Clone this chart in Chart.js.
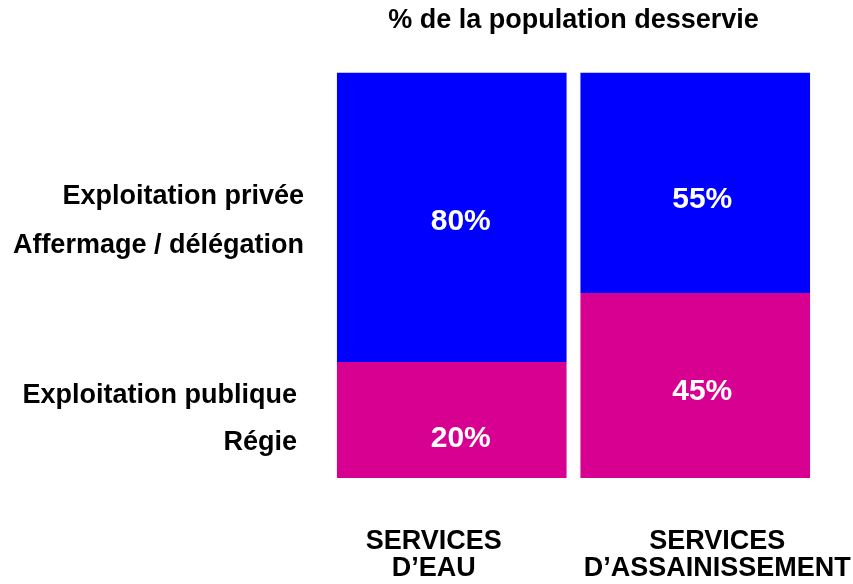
<!DOCTYPE html>
<html>
<head>
<meta charset="utf-8">
<script src="https://cdn.jsdelivr.net/npm/chart.js@4"></script>
<style>
  body { margin: 0; background: #fff; overflow: hidden; }
</style>
</head>
<body>
<canvas id="myChart" width="853" height="584"></canvas>
<script>
const categories = [['SERVICES', 'D\u2019EAU'], ['SERVICES', 'D\u2019ASSAINISSEMENT']];
// bar heights as drawn in the picture (share of the bar)
const publicValues = [28.6, 45.6];
const privateValues = [71.4, 54.4];
// the printed labels
const publicLabels = ['20%', '45%'];
const privateLabels = ['80%', '55%'];
const sideLabels = [['Exploitation publique', 'Régie'], ['Exploitation privée', 'Affermage / délégation']];

const FONT = '"Liberation Sans", Arial, sans-serif';
Chart.defaults.font.family = FONT;
Chart.defaults.color = '#000000';

const textPlugin = {
  id: 'texts',
  afterDatasetsDraw(chart) {
    const ctx = chart.ctx;
    const area = chart.chartArea;
    ctx.save();
    // values inside the bars (labels sit a bit off the segment middle)
    const labelSets = [publicLabels, privateLabels];
    const dx = [9, 7];
    const dy = [[19, 6], [5, 17]];
    ctx.fillStyle = '#ffffff';
    ctx.font = 'bold 30px ' + FONT;
    ctx.textAlign = 'center';
    ctx.textBaseline = 'middle';
    chart.data.datasets.forEach(function(ds, d) {
      chart.getDatasetMeta(d).data.forEach(function(bar, i) {
        ctx.fillText(labelSets[d][i], bar.x + dx[i], (bar.y + bar.base) / 2 + dy[d][i]);
      });
    });
    // legend-like labels on the left, beside the first bar
    ctx.fillStyle = '#000000';
    ctx.font = 'bold 27px ' + FONT;
    ctx.textAlign = 'right';
    const offsets = [40, 33];
    const lineDy = [[-24, 23], [-21, 28]];
    sideLabels.forEach(function(lines, d) {
      const bar = chart.getDatasetMeta(d).data[0];
      const mid = (bar.y + bar.base) / 2;
      const right = bar.x - bar.width / 2 - offsets[d];
      ctx.fillText(lines[0], right, mid + lineDy[d][0]);
      ctx.fillText(lines[1], right, mid + lineDy[d][1]);
    });
    // category names under the bars
    ctx.textAlign = 'center';
    const shifts = [-18, 22];
    const xs = chart.scales.x;
    categories.forEach(function(lines, i) {
      const x = xs.getPixelForValue(i) + shifts[i];
      lines.forEach(function(line, k) {
        ctx.fillText(line, x, area.bottom + 64 + k * 27);
      });
    });
    ctx.restore();
  }
};

const ctx = document.getElementById('myChart');
const myChart = new Chart(ctx, {
  type: 'bar',
  data: {
    labels: categories,
    datasets: [{
      label: 'Exploitation publique',
      data: publicValues,
      backgroundColor: '#d70090',
      barPercentage: 0.943,
      categoryPercentage: 1
    }, {
      label: 'Exploitation privée',
      data: privateValues,
      backgroundColor: '#0000ff',
      barPercentage: 0.943,
      categoryPercentage: 1
    }]
  },
  options: {
    responsive: false,
    animation: false,
    layout: {
      padding: { left: 330, right: 36, top: 0, bottom: 106 }
    },
    plugins: {
      legend: { display: false },
      tooltip: { enabled: false },
      title: {
        display: true,
        text: '% de la population desservie',
        fullSize: false,
        font: { size: 27, weight: 'bold' },
        color: '#000000',
        padding: { top: 4, bottom: 36 }
      }
    },
    scales: {
      x: {
        stacked: true,
        display: false
      },
      y: {
        stacked: true,
        display: false,
        min: 0,
        max: 100
      }
    }
  },
  plugins: [textPlugin]
});
</script>
</body>
</html>
